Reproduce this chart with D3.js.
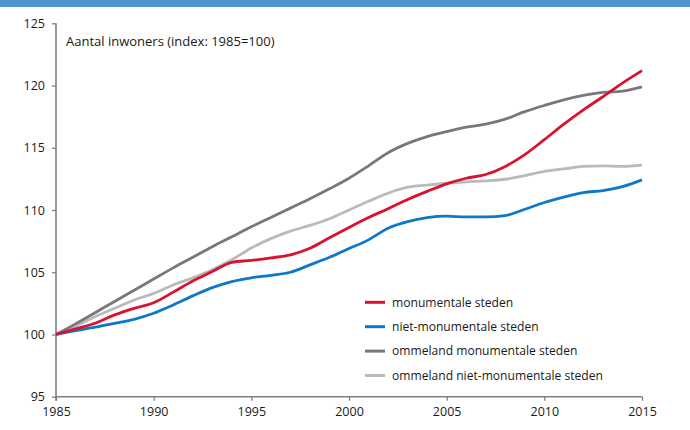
<!DOCTYPE html>
<html><head><meta charset="utf-8">
<script src="https://cdn.jsdelivr.net/npm/d3@7"></script>
<style>
html,body{margin:0;padding:0;background:#fff;}
svg{display:block;font-family:"Open Sans",sans-serif;}
</style></head>
<body>
<svg id="chart" width="690" height="430"></svg>
<script>
const years = d3.range(1985, 2016);
const monumentale = [100,100.45,100.9,101.57,102.1,102.55,103.4,104.3,105.05,105.8,105.95,106.15,106.4,106.93,107.77,108.6,109.4,110.1,110.85,111.5,112.1,112.55,112.85,113.5,114.45,115.65,116.9,118.05,119.1,120.2,121.2];
const nietMonumentale = [100,100.3,100.58,100.9,101.22,101.7,102.37,103.1,103.76,104.25,104.55,104.75,105.0,105.59,106.2,106.9,107.6,108.54,109.07,109.39,109.5,109.45,109.45,109.55,110.06,110.6,111.03,111.4,111.56,111.88,112.42];
const ommelandMonumentale = [100,100.85,101.75,102.65,103.55,104.45,105.35,106.2,107.05,107.85,108.65,109.4,110.15,110.9,111.7,112.55,113.55,114.6,115.35,115.9,116.3,116.65,116.9,117.3,117.9,118.4,118.85,119.2,119.45,119.55,119.9];
const ommelandNietMonumentale = [100,100.68,101.43,102.1,102.77,103.3,103.98,104.55,105.2,106.0,106.95,107.7,108.3,108.76,109.3,110.0,110.7,111.35,111.83,112.0,112.15,112.26,112.34,112.47,112.77,113.1,113.3,113.5,113.55,113.5,113.6];
const seriesNames = ["monumentale steden","niet-monumentale steden","ommeland monumentale steden","ommeland niet-monumentale steden"];
const seriesValues = [monumentale, nietMonumentale, ommelandMonumentale, ommelandNietMonumentale];
const seriesColors = ["#d7132f","#0e78c6","#77787b","#b9babc"];
const xTicks = [1985,1990,1995,2000,2005,2010,2015];
const yTicks = [95,100,105,110,115,120,125];
const yLabel = "Aantal inwoners (index: 1985=100)";

const svg = d3.select("#chart");
svg.append("rect").attr("x",0).attr("y",0).attr("width",690).attr("height",7).attr("fill","#4f95d0");

const x = d3.scaleLinear().domain([1985,2015]).range([56,642]);
const y = d3.scaleLinear().domain([95,125]).range([396.7,23.3]);

const axisColor = "#7f7f7f";
const xAxis = svg.append("g").attr("transform","translate(0,396.7)")
  .call(d3.axisBottom(x).tickValues(xTicks).tickFormat(d3.format("d")).tickSize(4).tickPadding(6));
const yAxis = svg.append("g").attr("transform","translate(56,0)")
  .call(d3.axisLeft(y).tickValues(yTicks).tickSize(4).tickPadding(7));
[xAxis,yAxis].forEach(g=>{
  g.select(".domain").attr("stroke",axisColor).attr("stroke-width",1.6);
  g.selectAll(".tick line").attr("stroke",axisColor).attr("stroke-width",1.3);
  g.selectAll(".tick text").attr("fill","#1a1a1a").style("font-size","12.5px").style("font-family","'Open Sans',sans-serif");
});
xAxis.select(".domain").attr("d","M56,0H642");
yAxis.select(".domain").attr("d","M0,23.3V400.7");

svg.append("text").attr("x",66).attr("y",46).text(yLabel)
  .style("font-size","13px").attr("fill","#1a1a1a");

const line = d3.line().x((d,i)=>x(years[i])).y(d=>y(d)).curve(d3.curveMonotoneX);
const order = [3,2,1,0];
order.forEach(k=>{
  svg.append("path").datum(seriesValues[k]).attr("d",line)
    .attr("fill","none").attr("stroke",seriesColors[k]).attr("stroke-width",2.8)
    .attr("stroke-linejoin","round");
});

const leg = svg.append("g");
seriesNames.forEach((n,i)=>{
  const cy = 302.3 + i*24.4;
  leg.append("line").attr("x1",365).attr("x2",385).attr("y1",cy).attr("y2",cy)
    .attr("stroke",seriesColors[i]).attr("stroke-width",3);
  leg.append("text").attr("x",392).attr("y",cy+4.3).text(n)
    .style("font-size","12.1px").attr("fill","#1a1a1a");
});
</script>
</body></html>
